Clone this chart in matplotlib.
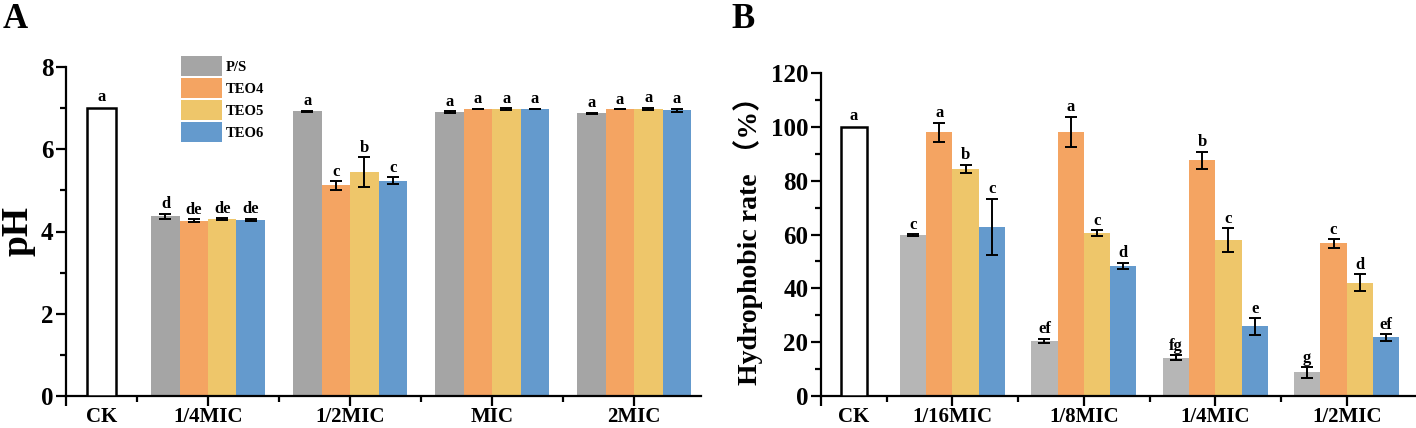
import numpy as np
import matplotlib.pyplot as plt
from matplotlib.patches import Patch

# ── Data ──────────────────────────────────────────────────────────────────────

SERIES = ["P/S", "TEO4", "TEO5", "TEO6"]

# Panel A: pH
groups_a = ["1/4MIC", "1/2MIC", "MIC", "2MIC"]
ck_a, ck_a_letter = 7.0, "a"
ph_ps = [4.37, 6.92, 6.90, 6.87]
ph_teo4 = [4.26, 5.12, 6.99, 6.98]
ph_teo5 = [4.31, 5.44, 6.98, 6.98]
ph_teo6 = [4.28, 5.24, 6.99, 6.95]
ph_err_ps = [0.06, 0.02, 0.03, 0.02]
ph_err_teo4 = [0.04, 0.10, 0.0, 0.0]
ph_err_teo5 = [0.02, 0.37, 0.02, 0.03]
ph_err_teo6 = [0.03, 0.08, 0.0, 0.04]
ph_letters_ps = ["d", "a", "a", "a"]
ph_letters_teo4 = ["de", "c", "a", "a"]
ph_letters_teo5 = ["de", "b", "a", "a"]
ph_letters_teo6 = ["de", "c", "a", "a"]

# Panel B: hydrophobic rate (%)
groups_b = ["1/16MIC", "1/8MIC", "1/4MIC", "1/2MIC"]
ck_b, ck_b_letter = 100.0, "a"
hr_ps = [59.8, 20.5, 14.3, 8.8]
hr_teo4 = [97.9, 98.2, 87.5, 56.7]
hr_teo5 = [84.4, 60.5, 58.0, 42.1]
hr_teo6 = [62.8, 48.3, 25.9, 21.8]
hr_err_ps = [0.3, 0.8, 0.8, 2.0]
hr_err_teo4 = [3.7, 5.6, 3.3, 1.6]
hr_err_teo5 = [1.5, 1.2, 4.4, 3.1]
hr_err_teo6 = [10.5, 1.2, 3.1, 1.2]
hr_letters_ps = ["c", "ef", "fg", "g"]
hr_letters_teo4 = ["a", "a", "b", "c"]
hr_letters_teo5 = ["b", "c", "c", "d"]
hr_letters_teo6 = ["c", "d", "e", "ef"]

# ── Style ─────────────────────────────────────────────────────────────────────

ORANGE = "#F4A462"
YELLOW = "#EEC66A"
BLUE = "#649ACD"
GRAY_A = "#A5A5A5"
GRAY_B = "#B6B6B6"

SERIF = ["Liberation Serif", "DejaVu Serif"]
plt.rcParams["font.family"] = SERIF
plt.rcParams["font.weight"] = "bold"
plt.rcParams["axes.linewidth"] = 1.6

BAR_W = 0.2
OFFSETS = [-0.3, -0.1, 0.1, 0.3]
CK_X = -0.75


def style_axes(ax, ymax, ystep, xmax):
    ax.spines["top"].set_visible(False)
    ax.spines["right"].set_visible(False)
    ax.set_xlim(-1, xmax)
    ax.set_ylim(0, ymax)
    ax.set_yticks(np.arange(0, ymax + 0.01, ystep))
    ax.set_yticks(np.arange(ystep / 2, ymax, ystep), minor=True)
    ax.tick_params(axis="y", which="major", length=7, width=1.6,
                   labelsize=18, pad=2)
    ax.tick_params(axis="y", which="minor", length=4, width=1.6)
    ax.tick_params(axis="x", which="major", length=7, width=1.6,
                   labelsize=15, pad=1)
    ax.tick_params(axis="x", which="minor", length=4, width=1.6)
    for lab in ax.get_yticklabels():
        lab.set_fontweight("bold")


def draw_panel(ax, groups, ck, ck_letter, vals, errs, letters, colors,
               ymax, ystep, xmax):
    x = np.arange(len(groups))
    ax.bar(CK_X, ck, BAR_W, color="white", edgecolor="black", linewidth=1.8,
           zorder=3)
    ax.annotate(ck_letter, (CK_X, ck), xytext=(0, 2), textcoords="offset points",
                ha="center", va="bottom", fontsize=12, fontweight="bold")
    for off, v, e, lt, c in zip(OFFSETS, vals, errs, letters, colors):
        ax.bar(x + off, v, BAR_W, color=c, zorder=2)
        ax.errorbar(x + off, v, yerr=e, fmt="none", ecolor="black",
                    elinewidth=1.4, capsize=4, capthick=1.4, zorder=4)
        for xi, vi, ei, li in zip(x + off, v, e, lt):
            ax.annotate(li, (xi, vi + ei), xytext=(0, 1),
                        textcoords="offset points", ha="center", va="bottom",
                        fontsize=12, fontweight="bold")
    style_axes(ax, ymax, ystep, xmax)
    ticks = [-1, CK_X] + list(x)
    ax.set_xticks(ticks)
    ax.set_xticklabels([""] + ["CK"] + groups, fontweight="bold")
    ax.xaxis.get_major_ticks()[1].tick1line.set_visible(False)
    ax.set_xticks(list(np.arange(-0.5, len(groups) - 0.5, 1.0)), minor=True)


fig = plt.figure(figsize=(14.16, 4.28), dpi=100)
W, H = 1416, 428

ax_a = fig.add_axes([66 / W, 1 - 396 / H, (701 - 66) / W, (396 - 67) / H])
ax_b = fig.add_axes([821 / W, 1 - 396 / H, (1415 - 821) / W, (396 - 73) / H])

draw_panel(ax_a, groups_a, ck_a, ck_a_letter,
           [ph_ps, ph_teo4, ph_teo5, ph_teo6],
           [ph_err_ps, ph_err_teo4, ph_err_teo5, ph_err_teo6],
           [ph_letters_ps, ph_letters_teo4, ph_letters_teo5, ph_letters_teo6],
           [GRAY_A, ORANGE, YELLOW, BLUE], 8, 2, 3.47)
ax_a.set_ylabel("pH", fontsize=27, fontweight="bold", labelpad=4)

draw_panel(ax_b, groups_b, ck_b, ck_b_letter,
           [hr_ps, hr_teo4, hr_teo5, hr_teo6],
           [hr_err_ps, hr_err_teo4, hr_err_teo5, hr_err_teo6],
           [hr_letters_ps, hr_letters_teo4, hr_letters_teo5, hr_letters_teo6],
           [GRAY_B, ORANGE, YELLOW, BLUE], 120, 20, 3.52)
ax_b.set_ylabel("Hydrophobic rate （%）", fontsize=20, fontweight="bold",
                family=SERIF + ["Noto Sans CJK SC"], labelpad=6)

handles = [Patch(facecolor=c, edgecolor="none")
           for c in [GRAY_A, ORANGE, YELLOW, BLUE]]
fig.legend(handles, SERIES, loc="upper left", bbox_to_anchor=(181 / W, 1 - 56 / H),
           bbox_transform=fig.transFigure, frameon=False, borderpad=0,
           borderaxespad=0, handlelength=2.8, handleheight=1.75,
           labelspacing=0.12, handletextpad=0.25,
           prop={"family": SERIF, "weight": "bold", "size": 10.5})

fig.text(3 / W, 1 - 3 / H, "A", fontsize=25, fontweight="bold", va="top", ha="left")
fig.text(731 / W, 1 - 3 / H, "B", fontsize=25, fontweight="bold", va="top", ha="left")

fig.savefig("out.png", dpi=100)
